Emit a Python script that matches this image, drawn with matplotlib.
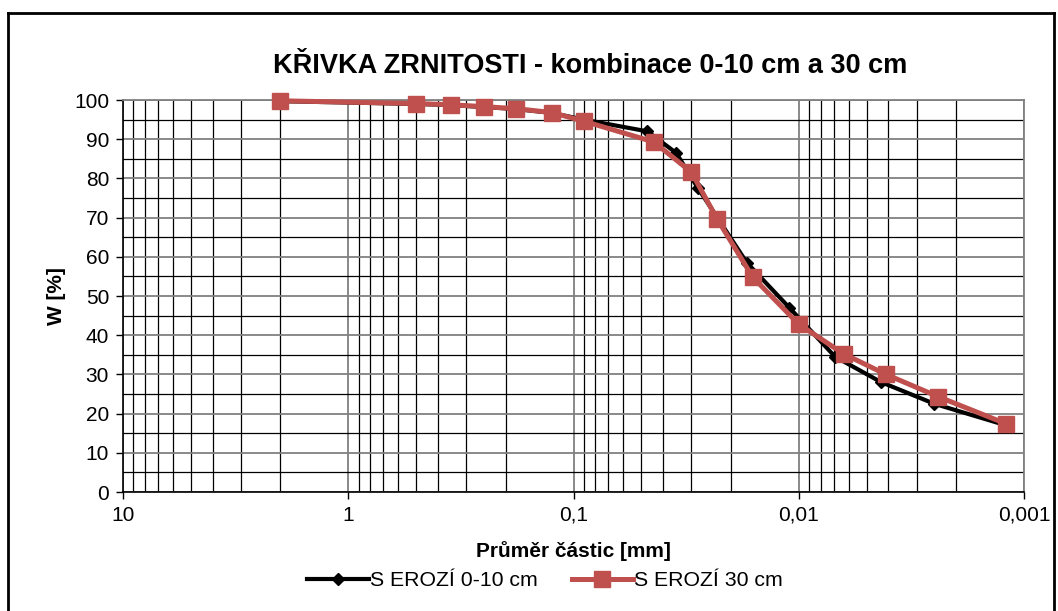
import matplotlib
matplotlib.use("Agg")
import matplotlib.pyplot as plt
from matplotlib.ticker import LogLocator, FixedLocator, NullFormatter, MultipleLocator
from matplotlib.lines import Line2D

plt.rcParams['font.family'] = ['Liberation Sans', 'DejaVu Sans']

title = "KŘIVKA ZRNITOSTI - kombinace 0-10 cm a 30 cm"
xlabel = "Průměr částic [mm]"
ylabel = "W [%]"
series1_name = "S EROZÍ 0-10 cm"
series2_name = "S EROZÍ 30 cm"

x1 = [2.0, 0.5, 0.35, 0.25, 0.18, 0.125, 0.09, 0.047, 0.035, 0.028, 0.017, 0.011, 0.0069, 0.0043, 0.0025, 0.0012]
y1 = [99.7, 99.0, 98.7, 98.2, 97.7, 96.7, 95.0, 92.0, 86.5, 77.5, 58.5, 47.0, 34.5, 28.0, 22.5, 17.0]

x2 = [2.0, 0.5, 0.35, 0.25, 0.18, 0.125, 0.09, 0.044, 0.030, 0.023, 0.016, 0.010, 0.0063, 0.0041, 0.0024, 0.0012]
y2 = [99.8, 99.1, 98.8, 98.3, 97.8, 96.8, 94.6, 89.3, 81.6, 69.6, 54.8, 42.8, 35.2, 30.0, 24.3, 17.4]

xticks = [10, 1, 0.1, 0.01, 0.001]
xticklabels = ["10", "1", "0,1", "0,01", "0,001"]

W, H = 1058, 611
fig = plt.figure(figsize=(W / 100, H / 100), dpi=100)
ax = fig.add_axes([123 / W, 1 - 492 / H, (1024 - 123) / W, (492 - 100) / H])

ax.set_xscale('log')
ax.set_xlim(10, 0.001)
ax.set_ylim(0, 100)

ax.xaxis.set_major_locator(FixedLocator(xticks))
ax.set_xticklabels(xticklabels)
ax.xaxis.set_minor_locator(LogLocator(base=10, subs=range(2, 10)))
ax.xaxis.set_minor_formatter(NullFormatter())
ax.yaxis.set_major_locator(MultipleLocator(10))
ax.yaxis.set_minor_locator(MultipleLocator(5))

ax.grid(which='major', color='#808080', linewidth=1.3)
ax.grid(which='minor', color='black', linewidth=0.9)
ax.set_axisbelow(True)

ax.tick_params(axis='both', which='major', direction='out', length=5, width=1,
               labelsize=15, colors='black', pad=5)
ax.tick_params(axis='x', which='minor', length=0)
ax.tick_params(axis='y', which='minor', length=0)

for s in ['left', 'bottom']:
    ax.spines[s].set_color('black')
    ax.spines[s].set_linewidth(1.2)
for s in ['top', 'right']:
    ax.spines[s].set_color('#808080')
    ax.spines[s].set_linewidth(1.3)

ax.plot(x1, y1, color='black', linewidth=3, marker='D', markersize=6,
        markerfacecolor='black', markeredgecolor='black', label=series1_name,
        zorder=3, clip_on=False)
ax.plot(x2, y2, color='#C0504D', linewidth=3.6, marker='s', markersize=12,
        markerfacecolor='#C0504D', markeredgecolor='#C0504D', label=series2_name,
        zorder=4, clip_on=False)

fig.text(590 / W, 1 - 66 / H, title, ha='center', va='center',
         fontsize=19.5, fontweight='bold')
fig.text(573 / W, 1 - 551 / H, xlabel, ha='center', va='center',
         fontsize=15, fontweight='bold')
fig.text(57 / W, 1 - 296 / H, ylabel, ha='center', va='center',
         fontsize=15, fontweight='bold', rotation=90)

fig.legend(loc='center', bbox_to_anchor=(545 / W, 1 - 581 / H), ncol=2,
           frameon=False, fontsize=15.3, handlelength=2.9, handletextpad=0.05,
           columnspacing=1.6, borderaxespad=0)

# outer chart border
lw = 2
fig.add_artist(Line2D([8 / W, 8 / W], [1 - 13 / H, -0.05], color='black', linewidth=lw, transform=fig.transFigure))
fig.add_artist(Line2D([8 / W, 1054 / W], [1 - 13 / H, 1 - 13 / H], color='black', linewidth=lw, transform=fig.transFigure))
fig.add_artist(Line2D([1054 / W, 1054 / W], [1 - 13 / H, -0.05], color='black', linewidth=lw, transform=fig.transFigure))

fig.savefig('out.png', dpi=100)
